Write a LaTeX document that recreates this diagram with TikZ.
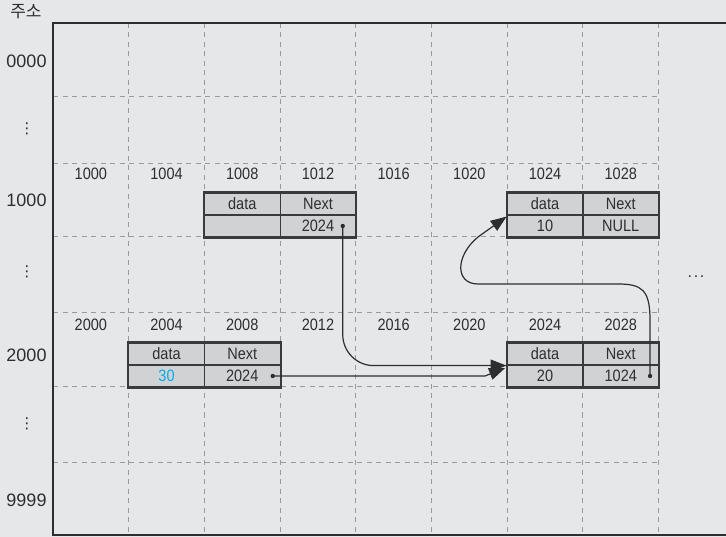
\documentclass[tikz,border=0pt]{standalone}
\usepackage{fontspec}
\setmainfont[FakeStretch=0.88]{Liberation Sans}
\newfontfamily\widefont{Liberation Sans}
\newfontfamily\krfont{Noto Sans CJK KR}
\newfontfamily\symfont{DejaVu Sans}
\usetikzlibrary{arrows.meta}
\definecolor{bg}{HTML}{E6E7E8}
\definecolor{boxfill}{HTML}{D1D2D4}
\definecolor{gridc}{HTML}{999A9C}
\definecolor{txt}{HTML}{2E2E2E}
\definecolor{boxline}{HTML}{3A3A3A}
\definecolor{cyanv}{HTML}{00AEEF}
\begin{document}
\begin{tikzpicture}[x=1pt,y=-1pt,
  gridline/.style={draw=gridc, line width=1pt, dash pattern=on 5pt off 4.5pt},
  frameline/.style={draw=txt, line width=1.5pt},
  cell/.style={draw=boxline, line width=1.2pt, fill=boxfill, minimum width=75.7pt, minimum height=22pt, inner sep=0pt, text height=12pt, text depth=0pt, font=\fontsize{16.5}{18}\selectfont, text=txt},
  boxouter/.style={draw=boxline, line width=2pt},
  collabel/.style={anchor=base, inner sep=0pt, font=\fontsize{16.5}{18}\selectfont, text=txt},
  rowlabel/.style={anchor=base, inner sep=0pt, font=\widefont\fontsize{18}{20}\selectfont, text=txt},
  vdotlabel/.style={inner sep=0pt, text=txt, font=\symfont\fontsize{15}{16}\selectfont},
  link/.style={draw=txt, line width=1.2pt, -{Triangle[length=16pt,width=12pt]}},
  dotm/.style={fill=txt}
]
\useasboundingbox (0,0) rectangle (726,537);
\fill[bg] (0,0) rectangle (726,537);

% grid
\foreach \k in {1,...,8} {
  \draw[gridline] ({53+75.7*\k},23) -- ({53+75.7*\k},535);
}
\foreach \yy in {97,164,237,313,387,462} {
  \draw[gridline] (53,\yy) -- (658.6,\yy);
}
% frame
\draw[frameline] (726,23) -- (53,23) -- (53,535) -- (726,535);

% address header
\node[inner sep=0pt, text=txt, font=\krfont\fontsize{17}{19}\selectfont] (addr) at (26,12) {주소};

% row labels
\node[rowlabel] (r0) at (26.5,68) {0000};
\node[vdotlabel] (v1) at (27,129) {⋮};
\node[rowlabel] (r1) at (26.5,206.5) {1000};
\node[vdotlabel] (v2) at (27,272) {⋮};
\node[rowlabel] (r2) at (26.5,361.5) {2000};
\node[vdotlabel] (v3) at (27,424) {⋮};
\node[rowlabel] (r9) at (26.5,506) {9999};

% column labels
\foreach \lab [count=\i from 0] in {1000,1004,1008,1012,1016,1020,1024,1028} {
  \node[collabel] (ca\i) at ({53+75.7*(\i+0.5)},180) {\lab};
}
\foreach \lab [count=\i from 0] in {2000,2004,2008,2012,2016,2020,2024,2028} {
  \node[collabel] (cb\i) at ({53+75.7*(\i+0.5)},330.5) {\lab};
}
\node[anchor=base, inner sep=0pt, text=txt, font=\widefont\fontsize{16}{18}\selectfont] (more) at (696,278) {.\kern1.6pt.\kern1.6pt.};

% node A (1008)
\node[cell] (aD) at (242.25,204) {data};
\node[cell] (aN) at (317.95,204) {Next};
\node[cell] (aV) at (242.25,226) {};
\node[cell] (aP) at (317.95,226) {2024};
\draw[boxouter] (aD.north west) rectangle (aP.south east);

% node B (1024)
\node[cell] (bD) at (545.05,204) {data};
\node[cell] (bN) at (620.75,204) {Next};
\node[cell] (bV) at (545.05,226) {10};
\node[cell] (bP) at (620.75,226) {NULL};
\draw[boxouter] (bD.north west) rectangle (bP.south east);

% node C (2004)
\node[cell] (cD) at (166.55,354) {data};
\node[cell] (cN) at (242.25,354) {Next};
\node[cell, text=cyanv] (cV) at (166.55,376) {30};
\node[cell] (cP) at (242.25,376) {2024};
\draw[boxouter] (cD.north west) rectangle (cP.south east);

% node D (2024)
\node[cell] (dD) at (545.05,354) {data};
\node[cell] (dN) at (620.75,354) {Next};
\node[cell] (dV) at (545.05,376) {20};
\node[cell] (dP) at (620.75,376) {1024};
\draw[boxouter] (dD.north west) rectangle (dP.south east);

% pointer dots
\coordinate (pa) at ([xshift=24.8pt]aP.center);
\coordinate (pc) at ([xshift=30.5pt]cP.center);
\coordinate (pd) at ([xshift=29.3pt]dP.center);
\fill[dotm] (pa) circle (2.2pt);
\fill[dotm] (pc) circle (2.2pt);
\fill[dotm] (pd) circle (2.2pt);

% connectors
\draw[link, rounded corners=31pt] (pa) |- (dD.south west);
\coordinate (bend2) at (485,376);
\draw[link] (pc) -- (bend2) -- ([xshift=-1.5pt,yshift=-2.5pt]dD.south west);
\draw[link] (pd) -- (650,320) .. controls (650,290) and (642,284) .. (618,284) -- (478,284)
  .. controls (455,284) and (455,256) .. (478,237) -- ([yshift=-1pt]bD.south west);
\end{tikzpicture}
\end{document}
